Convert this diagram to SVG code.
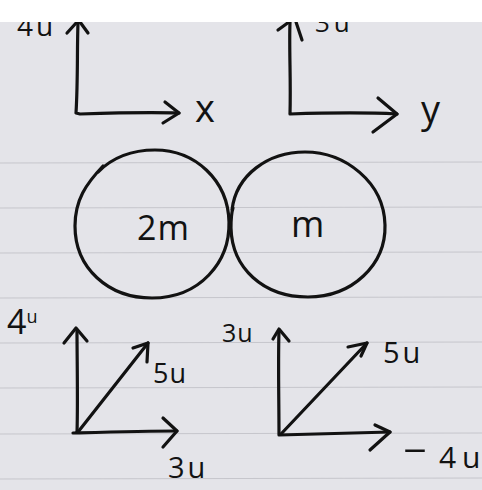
<svg xmlns="http://www.w3.org/2000/svg" width="482" height="490" viewBox="0 0 482 490">
<style>
.ink{fill:none;stroke:#121212;stroke-width:3.2;stroke-linecap:round;stroke-linejoin:round}
.rule{stroke:#c6c6cc;stroke-width:1.2}
.t{font-family:"Open Sans","Liberation Sans",sans-serif;font-weight:500;fill:#121212}
</style>
<rect x="0" y="0" width="482" height="490" fill="#e4e4e9"/>
<g id="rules">
<line class="rule" x1="0" y1="163" x2="482" y2="162"/>
<line class="rule" x1="0" y1="208" x2="482" y2="207"/>
<line class="rule" x1="0" y1="253" x2="482" y2="252"/>
<line class="rule" x1="0" y1="298" x2="482" y2="297"/>
<line class="rule" x1="0" y1="343" x2="482" y2="342"/>
<line class="rule" x1="0" y1="388" x2="482" y2="387"/>
<line class="rule" x1="0" y1="434" x2="482" y2="433"/>
<line class="rule" x1="0" y1="479" x2="482" y2="478"/>
</g>
<g id="axes-left">
<path class="ink" d="M78,22 C77,50 78,80 76,113 L80,114 C110,113 150,112 179,113"/>
<path class="ink" d="M165,102 L179,113 L163,123"/>
<path class="ink" d="M67,33 L77,22 M80,22 L88,33"/>
<text class="t" x="17" y="36" font-size="28" letter-spacing="3">4u</text>
<text class="t" x="195" y="122" font-size="38">x</text>
</g>
<g id="axes-right">
<path class="ink" d="M290,22 C289,50 291,80 290,114 C320,113 360,112 397,114"/>
<path class="ink" d="M378,98 L397,114 L373,132"/>
<path class="ink" d="M278,30 L289,22 M296,22 L302,40"/>
<text class="t" x="315" y="32" font-size="26" letter-spacing="4">3u</text>
<text class="t" x="421" y="123" font-size="38">y</text>
</g>
<g id="ball-2m">
<path class="ink" d="M98,172 C112,158 132,150 155,150 C195,150 228,180 229,222 C230,262 200,298 152,298 C108,298 75,268 75,226 C75,200 86,184 103,166"/>
<text class="t" x="137" y="240" font-size="34" letter-spacing="1">2m</text>
</g>
<g id="ball-m">
<path class="ink" d="M232,210 C236,175 268,152 305,152 C345,152 384,182 385,225 C386,265 352,297 308,297 C263,297 232,268 231,228 C231,220 231,214 233,208"/>
<text class="t" x="291" y="237" font-size="36">m</text>
</g>
<g id="white-top">
<rect x="0" y="0" width="482" height="22" fill="#ffffff"/>
</g>
<g id="vectors-left">
<path class="ink" d="M77,330 C77,360 78,400 77,433 M73,433 C110,432 145,431 177,431"/>
<path class="ink" d="M64,343 L76,328 L87,341"/>
<path class="ink" d="M163,418 L177,431 L163,447"/>
<path class="ink" d="M78,432 L148,343"/>
<path class="ink" d="M133,348 L148,343 L147,362"/>
<text class="t" x="7" y="334" font-size="34">4<tspan font-size="18" dy="-11">u</tspan></text>
<text class="t" x="153" y="383" font-size="27" letter-spacing="1">5u</text>
<text class="t" x="168" y="478" font-size="29" letter-spacing="3">3u</text>
</g>
<g id="vectors-right">
<path class="ink" d="M279,330 C278,365 279,400 279,435 C310,434 350,433 390,432"/>
<path class="ink" d="M273,339 L279,329 L289,341"/>
<path class="ink" d="M375,425 L390,432 L370,450"/>
<path class="ink" d="M281,434 L367,343"/>
<path class="ink" d="M348,347 L367,343 L361,356"/>
<text class="t" x="222" y="342" font-size="25" letter-spacing="1">3u</text>
<text class="t" x="383" y="363" font-size="29" letter-spacing="3">5u</text>
<text class="t" x="402" y="460" font-size="34"><tspan textLength="26" lengthAdjust="spacingAndGlyphs">-</tspan><tspan x="439" y="468" font-size="30">4</tspan><tspan x="462" font-size="30">u</tspan></text>
</g>
</svg>
